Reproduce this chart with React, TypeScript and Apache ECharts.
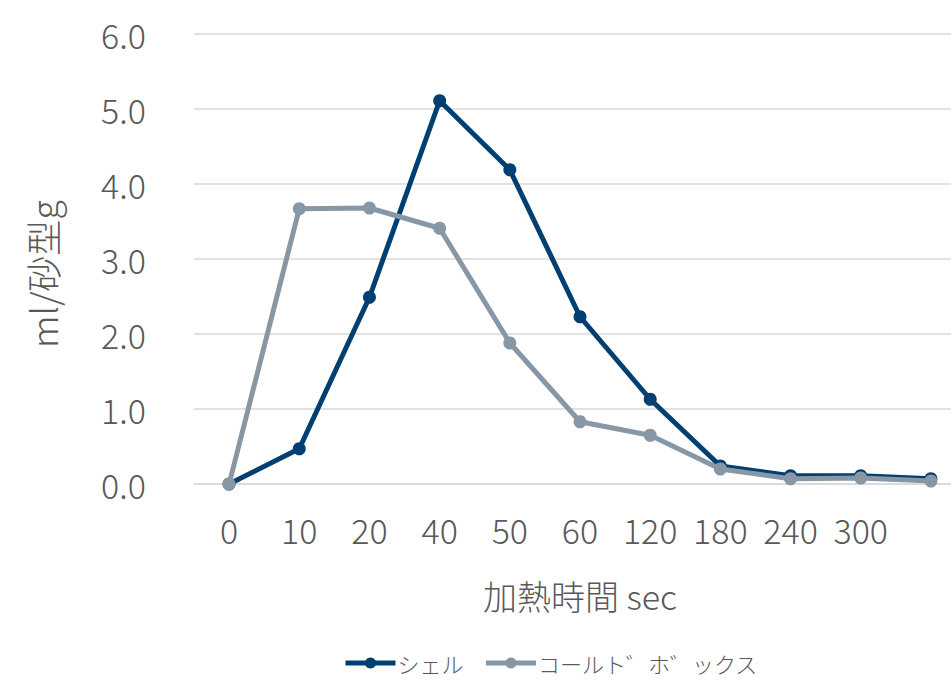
import React, { useEffect, useRef } from "react";
import * as echarts from "echarts";

const categories = ["0", "10", "20", "40", "50", "60", "120", "180", "240", "300", ""];
const seriesNames = ["シェル", "コールト゛ホ゛ックス"];
const shellValues = [0, 0.47, 2.49, 5.11, 4.19, 2.23, 1.13, 0.24, 0.11, 0.11, 0.07];
const coldBoxValues = [0, 3.67, 3.68, 3.41, 1.88, 0.83, 0.65, 0.2, 0.07, 0.08, 0.04];
const yTicks = [0, 1, 2, 3, 4, 5, 6];

const FONT = "'Noto Sans CJK JP', 'DejaVu Sans Condensed', sans-serif";
const TEXT_COLOR = "#595959";
const SHELL_COLOR = "#003F72";
const COLD_COLOR = "#8897A5";

export default function App() {
  const ref = useRef<HTMLDivElement>(null);

  useEffect(() => {
    if (!ref.current) return;
    const chart = echarts.init(ref.current, undefined, { renderer: "svg" });
    chart.setOption({
      animation: false,
      textStyle: { fontFamily: FONT },
      grid: {
        left: 194,
        top: 34,
        width: 772,
        height: 450,
        containLabel: false,
        outerBoundsMode: "none",
      },
      legend: {
        top: 649,
        left: 343,
        padding: 0,
        itemWidth: 50,
        itemHeight: 14,
        itemGap: 20,
        lineStyle: { width: 5 },
        textStyle: {
          fontSize: 22,
          lineHeight: 28,
          color: TEXT_COLOR,
          fontFamily: FONT,
          fontWeight: 300,
          padding: [0, 0, 0, -3],
        },
        data: seriesNames,
      },
      xAxis: {
        type: "category",
        data: categories,
        boundaryGap: true,
        name: "加熱時間 sec",
        nameLocation: "middle",
        nameGap: 94,
        nameTextStyle: { fontSize: 34, color: TEXT_COLOR, fontWeight: 300 },
        axisLine: { show: true, lineStyle: { color: "#D9D9D9", width: 1.5 } },
        axisTick: { show: false },
        axisLabel: { fontSize: 34, color: TEXT_COLOR, margin: 28, fontWeight: 300, interval: 0 },
      },
      yAxis: {
        type: "value",
        min: 0,
        max: yTicks[yTicks.length - 1],
        interval: 1,
        name: "ml/砂型g",
        nameLocation: "middle",
        nameGap: 134,
        nameRotate: 90,
        nameTextStyle: {
          fontSize: 36,
          color: TEXT_COLOR,
          fontWeight: 300,
          padding: [0, 30, 0, 0],
        },
        axisLine: { show: false },
        axisTick: { show: false },
        splitLine: { lineStyle: { color: "#D9D9D9", width: 1.5 } },
        axisLabel: {
          fontSize: 34,
          color: TEXT_COLOR,
          margin: 48,
          fontWeight: 300,
          formatter: (v: number) => v.toFixed(1),
        },
      },
      series: [
        {
          name: seriesNames[0],
          type: "line",
          data: shellValues,
          symbol: "circle",
          symbolSize: 13,
          lineStyle: { width: 5, color: SHELL_COLOR },
          itemStyle: { color: SHELL_COLOR },
          z: 3,
        },
        {
          name: seriesNames[1],
          type: "line",
          data: coldBoxValues,
          symbol: "circle",
          symbolSize: 13,
          lineStyle: { width: 5, color: COLD_COLOR },
          itemStyle: { color: COLD_COLOR },
          z: 4,
        },
      ],
    });
    return () => chart.dispose();
  }, []);

  return (
    <div
      ref={ref}
      style={{ position: "absolute", left: 0, top: 0, width: 951, height: 680 }}
    />
  );
}
